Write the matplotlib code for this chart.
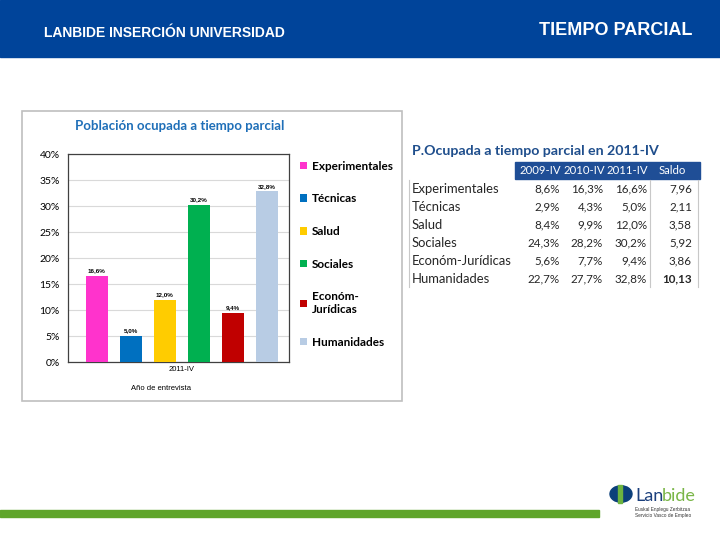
import numpy as np
import matplotlib.pyplot as plt
from matplotlib.patches import Rectangle, Circle

# datos
areas = ['Experimentales', 'Técnicas', 'Salud', 'Sociales', 'Económ-\nJurídicas', 'Humanidades']
valores_2011 = [16.6, 5.0, 12.0, 30.2, 9.4, 32.8]
colores = ['#FF33CC', '#0070C0', '#FFCC00', '#00B050', '#C00000', '#B8CCE4']

filas_tabla = ['Experimentales', 'Técnicas', 'Salud', 'Sociales', 'Económ-Jurídicas', 'Humanidades']
cols_tabla = ['2009-IV', '2010-IV', '2011-IV', 'Saldo']
t2009 = ['8,6%', '2,9%', '8,4%', '24,3%', '5,6%', '22,7%']
t2010 = ['16,3%', '4,3%', '9,9%', '28,2%', '7,7%', '27,7%']
t2011 = ['16,6%', '5,0%', '12,0%', '30,2%', '9,4%', '32,8%']
saldo = ['7,96', '2,11', '3,58', '5,92', '3,86', '10,13']

W, H = 720, 540


def fx(x):
    return x / W


def fy(y):
    return 1 - y / H


fig = plt.figure(figsize=(7.2, 5.4), dpi=100)

# cabecera azul
fig.patches.append(Rectangle((0, fy(57)), 1, 57 / H, transform=fig.transFigure,
                             color='#00449A', zorder=0))
fig.text(fx(44), fy(33), 'LANBIDE INSERCIÓN UNIVERSIDAD', color='white', fontsize=10,
         fontweight='bold', family='Liberation Sans', va='center')
fig.text(fx(692), fy(31), 'TIEMPO PARCIAL', color='white', fontsize=13,
         fontweight='bold', family='Liberation Sans', va='center', ha='right')

# marco del grafico
fig.patches.append(Rectangle((fx(22), fy(401)), 380 / W, 290 / H, transform=fig.transFigure,
                             fill=False, edgecolor='#BFBFBF', lw=1.2))
fig.text(fx(75), fy(126), 'Población ocupada a tiempo parcial', color='#1F6FB8',
         fontsize=9.5, fontweight='bold', family='Lato', va='center')

ax = fig.add_axes([fx(68), fy(362), 221 / W, 208 / H])
x = np.arange(len(areas))
bars = ax.bar(x, valores_2011, width=0.65, color=colores, zorder=3)
for b, v in zip(bars, valores_2011):
    ax.text(b.get_x() + b.get_width() / 2, v + 0.5, f'{v:.1f}%'.replace('.', ','),
            ha='center', va='bottom', fontsize=4.5, fontweight='bold', family='Liberation Sans')
ax.set_ylim(0, 40)
ax.set_xlim(-0.85, 5.65)
ax.set_yticks(np.arange(0, 41, 5))
ax.set_yticklabels([f'{t}%' for t in range(0, 41, 5)], family='Lato', fontsize=7.5)
ax.set_xticks([2.5])
ax.set_xticklabels(['2011-IV'], fontsize=5.5, family='Liberation Sans')
ax.tick_params(length=0, pad=3)
ax.tick_params(axis='y', pad=6)
ax.grid(axis='y', color='#D9D9D9', lw=0.8, zorder=0)
for s in ax.spines.values():
    s.set_color('#404040')
    s.set_linewidth(0.9)
ax.set_xlabel('Año de entrevista', fontsize=5.5, family='Liberation Sans')
ax.xaxis.set_label_coords(0.42, -0.11)

leg = ax.legend(bars, areas, loc='upper left', bbox_to_anchor=(1.03, 0.99), frameon=False,
                prop={'family': 'Lato', 'weight': 'bold', 'size': 8.5},
                handlelength=0.6, handleheight=0.6, handletextpad=0.4, labelspacing=1.83,
                borderaxespad=0)

# tabla
fig.text(fx(412), fy(151), 'P.Ocupada a tiempo parcial en 2011-IV', color='#1F4E8C',
         fontsize=10.2, fontweight='bold', family='Lato', va='center')
fig.patches.append(Rectangle((fx(515), fy(179)), 185 / W, 17 / H, transform=fig.transFigure,
                             color='#1F4E96'))
col_centros = [540, 584, 627, 672]
col_derecha = [560, 603, 647, 692]
for c, cx in zip(cols_tabla, col_centros):
    fig.text(fx(cx), fy(171), c, color='white', fontsize=8.2, family='Lato',
             ha='center', va='center')
row_y = [189, 207, 225, 243, 261, 279]
for i, fila in enumerate(filas_tabla):
    yy = fy(row_y[i])
    fig.text(fx(412), yy, fila, color='#262626', fontsize=9.4, family='Lato', va='center')
    for j, col in enumerate([t2009, t2010, t2011, saldo]):
        fig.text(fx(col_derecha[j]), yy, col[i], color='#262626', fontsize=8.4, family='Lato',
                 ha='right', va='center', fontweight='bold' if (i == 5 and j == 3) else 'normal')
for xl in [409, 650, 698]:
    fig.add_artist(plt.Line2D([fx(xl), fx(xl)], [fy(180), fy(287)], transform=fig.transFigure,
                              color='#C8C8C8', lw=0.8))

# pie: barra verde y logo
fig.patches.append(Rectangle((0, fy(517)), 599 / W, 7 / H, transform=fig.transFigure,
                             color='#5FA52B'))
fig.patches.append(Circle((fx(621), fy(494)), 11 / W, transform=fig.transFigure,
                          color='#0B3F7A'))
fig.patches.append(Rectangle((fx(618), fy(503)), 4 / W, 18 / H, transform=fig.transFigure,
                             color='#6CB33F'))
fig.text(fx(635), fy(496), 'Lan', color='#1B3F7C', fontsize=13, family='Lato', va='center')
fig.text(fx(662), fy(496), 'bide', color='#7AB648', fontsize=13, family='Lato', va='center')
fig.text(fx(635), fy(510), 'Euskal Enplegu Zerbitzua', color='#333333', fontsize=3.4,
         family='Liberation Sans', va='center')
fig.text(fx(635), fy(516), 'Servicio Vasco de Empleo', color='#333333', fontsize=3.4,
         family='Liberation Sans', va='center')

fig.savefig('out.png', dpi=100)
